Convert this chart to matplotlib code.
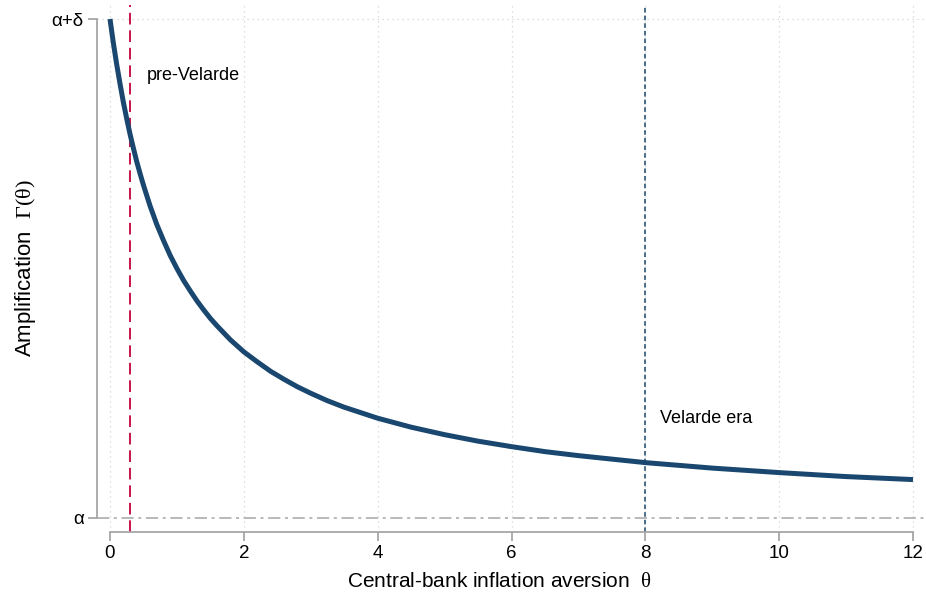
import matplotlib.pyplot as plt
import numpy as np

plt.rcParams['font.family'] = ['Liberation Sans', 'DejaVu Sans']
plt.rcParams['mathtext.fontset'] = 'custom'
plt.rcParams['mathtext.rm'] = 'Liberation Serif'

# amplification curve, share of delta above alpha
theta = [0, 0.05, 0.1, 0.15, 0.2, 0.25, 0.3, 0.35, 0.4, 0.45, 0.5, 0.6, 0.7,
         0.8, 0.9, 1.0, 1.1, 1.2, 1.3, 1.4, 1.5, 1.6, 1.8, 2.0, 2.2, 2.4,
         2.6, 2.8, 3.0, 3.25, 3.5, 3.75, 4.0, 4.5, 5.0, 5.5, 6.0, 6.5, 7.0,
         7.5, 8.0, 9.0, 10.0, 11.0, 12.0]
gamma = [1.0, 0.952, 0.909, 0.870, 0.833, 0.8, 0.769, 0.741, 0.714, 0.690,
         0.667, 0.625, 0.588, 0.556, 0.526, 0.5, 0.476, 0.455, 0.435, 0.417,
         0.4, 0.385, 0.357, 0.333, 0.313, 0.294, 0.278, 0.263, 0.25, 0.235,
         0.222, 0.211, 0.2, 0.182, 0.167, 0.154, 0.143, 0.133, 0.125, 0.118,
         0.111, 0.1, 0.091, 0.083, 0.077]

pre_velarde = 0.3
velarde_era = 8.0
x_ticks = [0, 2, 4, 6, 8, 10, 12]
y_ticks = [0, 1]
y_ticklabels = ['α', 'α+δ']

NAVY = '#1a476f'
GRAY = '#a6a6a6'

fig = plt.figure(figsize=(9.26, 5.94), dpi=100)
ax = fig.add_axes([97/926, 62/594, 829/926, 527/594])

ax.set_xlim(-13/66.92, 12 + 13/66.92)
ax.set_ylim(-14/499, 1 + 14/499)

# grid
for xt in x_ticks:
    ax.axvline(xt, color='#d4d4d4', lw=0.9, ls=(0, (1, 3)), zorder=0)
ax.axhline(1, color='#d4d4d4', lw=0.9, ls=(0, (1, 3)), zorder=0)
ax.axhline(0, color=GRAY, lw=1.1, ls=(0, (8, 3, 2, 3)), zorder=1)

ax.axvline(pre_velarde, color='#c8144a', lw=1.4, ls=(0, (6, 3)), zorder=2)
ax.axvline(velarde_era, color=NAVY, lw=1.1, ls=(0, (3, 2)), zorder=2)

ax.plot(theta, gamma, color=NAVY, lw=3.6, solid_capstyle='butt',
        solid_joinstyle='round', zorder=3)

ax.text(0.55, 0.886, 'pre-Velarde', fontsize=13, va='center', ha='left')
ax.text(8.22, 0.2, 'Velarde era', fontsize=13, va='center', ha='left')

for side in ['top', 'right']:
    ax.spines[side].set_visible(False)
ax.spines['left'].set_bounds(0, 1)
ax.spines['bottom'].set_bounds(0, 12)
for side in ['left', 'bottom']:
    ax.spines[side].set_color(GRAY)
    ax.spines[side].set_linewidth(1.3)

ax.set_xticks(x_ticks)
ax.set_yticks(y_ticks)
ax.set_yticklabels(y_ticklabels)
ax.tick_params(axis='both', colors=GRAY, labelcolor='black', length=6.5,
               width=1.3, labelsize=13.5, pad=3)

ax.set_xlabel(r'Central-bank inflation aversion  $\mathrm{\theta}$', fontsize=15, labelpad=7)
ax.xaxis.set_label_coords(0.485, -0.075)
ax.set_ylabel(r'Amplification  $\mathrm{\Gamma(\theta)}$', fontsize=16, labelpad=10)

plt.savefig('out.png', dpi=100)
